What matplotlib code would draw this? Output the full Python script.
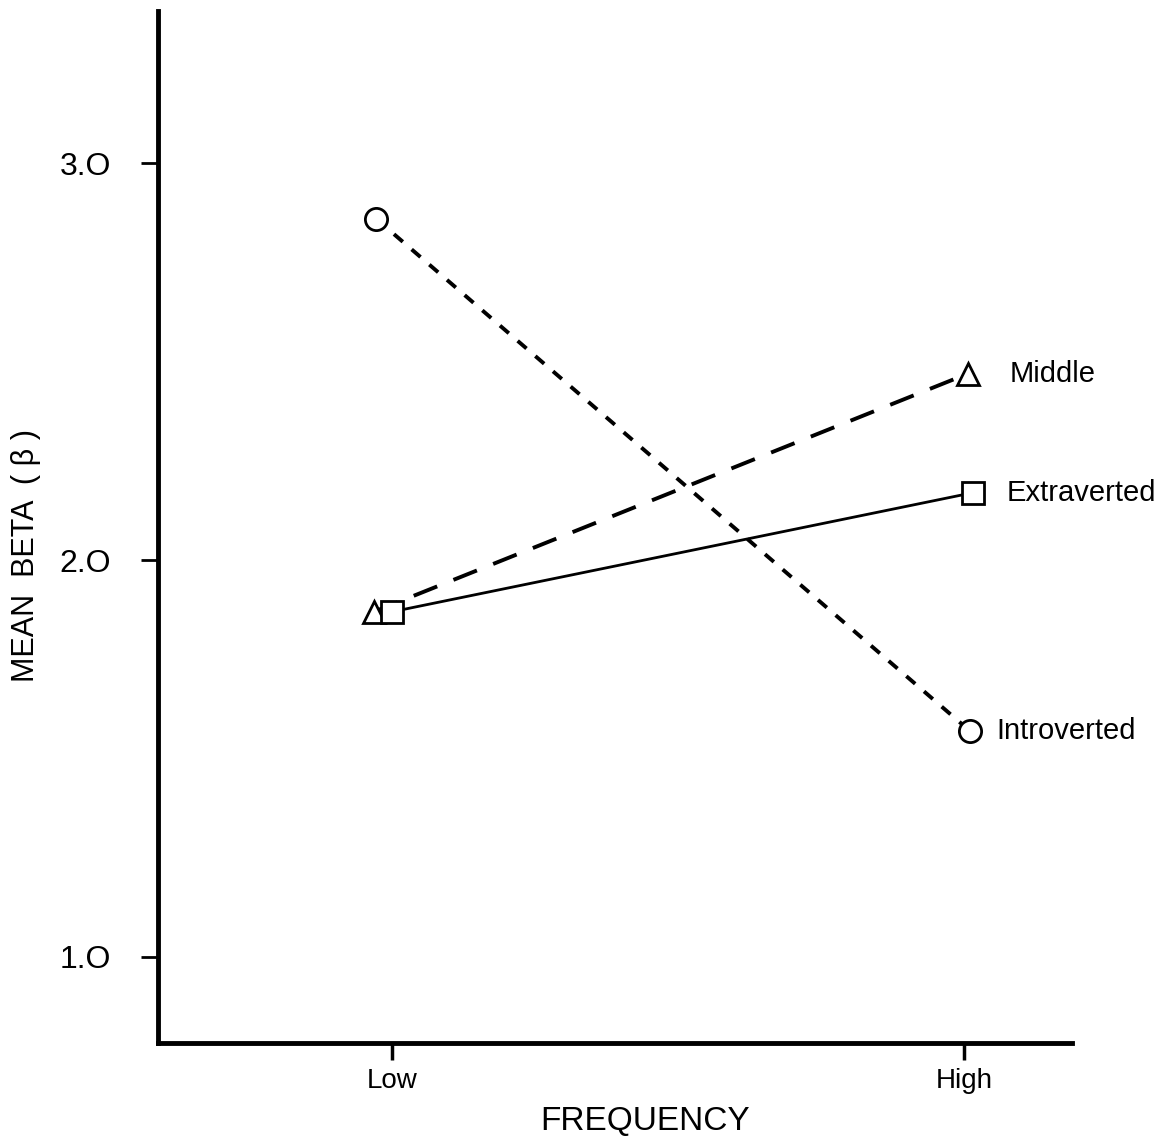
import matplotlib
matplotlib.use("Agg")
import matplotlib.pyplot as plt

plt.rcParams["font.family"] = ["Liberation Sans", "DejaVu Sans"]

# Data
frequency_labels = ["Low", "High"]
frequency_pos = [0, 1]
introverted = [2.86, 1.57]
middle = [1.87, 2.47]
extraverted = [1.87, 2.17]
y_ticks = [1.0, 2.0, 3.0]
y_tick_labels = ["1.O", "2.O", "3.O"]

# small horizontal nudges so the low-end markers sit side by side as in the print
intro_shift = [-0.028, 0.01]
middle_shift = [-0.032, 0.007]
extra_shift = [0.0, 0.016]

fig = plt.figure(figsize=(11.65, 11.42), dpi=100)
ax = fig.add_axes([0.1356, 0.0867, 0.785, 0.904])

def shifted(xs, dx):
    return [x + d for x, d in zip(xs, dx)]

ax.plot(shifted(frequency_pos, intro_shift), introverted, color="black", lw=2.8,
        dashes=(3.0, 3.0), marker="o", ms=16, mfc="white", mec="black", mew=2.0, zorder=3)
ax.plot(shifted(frequency_pos, middle_shift), middle, color="black", lw=2.8,
        dashes=(6.5, 4.5), marker="^", ms=16, mfc="white", mec="black", mew=2.0, zorder=2)
ax.plot(shifted(frequency_pos, extra_shift), extraverted, color="black", lw=2.0,
        ls="-", marker="s", ms=16, mfc="white", mec="black", mew=2.0, zorder=4)

ax.text(1.08, middle[1], "Middle", fontsize=21, va="center", ha="left")
ax.text(1.075, extraverted[1], "Extraverted", fontsize=21, va="center", ha="left")
ax.text(1.056, introverted[1], "Introverted", fontsize=21, va="center", ha="left")

ax.set_xlim(-0.41, 1.19)
ax.set_ylim(0.783, 3.385)
ax.set_xticks(frequency_pos)
ax.set_xticklabels(frequency_labels, fontsize=20)
ax.set_yticks(y_ticks)
ax.set_yticklabels(y_tick_labels, fontsize=23)

for side in ["top", "right"]:
    ax.spines[side].set_visible(False)
ax.spines["left"].set_linewidth(3.5)
ax.spines["bottom"].set_linewidth(3.5)
ax.tick_params(axis="y", direction="out", length=12, width=2, pad=22)
ax.tick_params(axis="x", direction="out", length=12, width=2.5, pad=6)

fig.text(645 / 1165, 1 - 1122 / 1142, "FREQUENCY", fontsize=24, ha="center", va="center")
fig.text(26 / 1165, 1 - 556 / 1142, "MEAN  BETA  ( β )", fontsize=22, rotation=90,
         ha="center", va="center")

fig.savefig("out.png", dpi=100)
